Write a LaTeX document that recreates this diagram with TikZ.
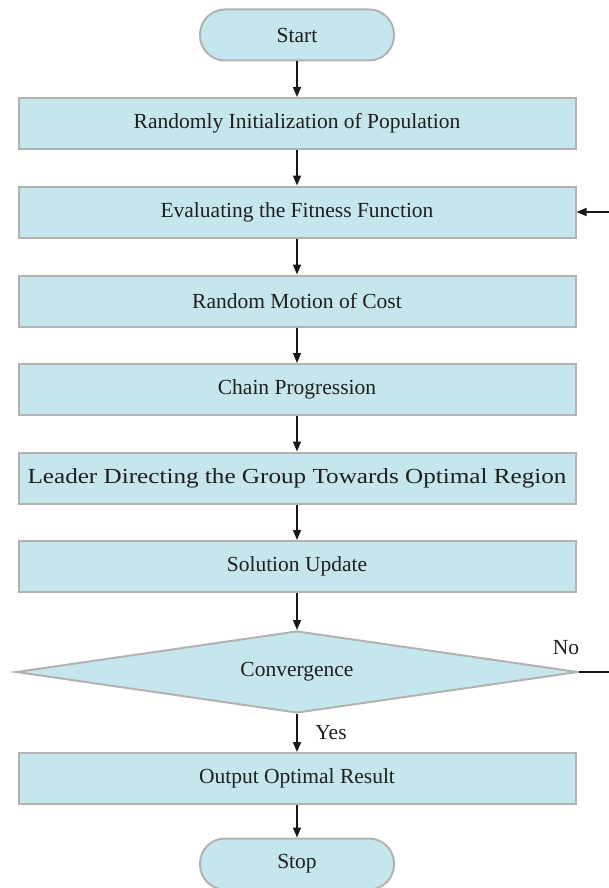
\documentclass[tikz,border=0pt]{standalone}
\usepackage{fontspec}
\usepackage{graphicx}
\setmainfont{Liberation Serif}
\usetikzlibrary{shapes.geometric,arrows.meta}
\definecolor{boxfill}{RGB}{198,230,237}
\definecolor{boxline}{RGB}{178,178,178}
\definecolor{txt}{RGB}{30,30,30}
\begin{document}
\begin{tikzpicture}[x=1pt,y=-1pt,
  font=\fontsize{21.5}{24}\selectfont,
  base/.style={fill=boxfill,draw=boxline,line width=2pt,text=txt,inner sep=0pt},
  procbox/.style={base,rectangle,minimum width=557pt,minimum height=51pt},
  term/.style={base,rectangle,rounded corners=25pt,minimum width=194pt,minimum height=51pt},
  decis/.style={base,diamond,aspect=6.85,minimum width=562pt,minimum height=82pt},
  conn/.style={line width=1.5pt,draw=black!90,-{Triangle[length=10pt,width=8pt]}},
  plain/.style={line width=1.5pt,draw=black!90},
  lbl/.style={text=txt,inner sep=0pt}]
\useasboundingbox (0,0) rectangle (608,888);
\node[term] (start) at (297,35) {Start};
\node[procbox] (b1) at (297,123.5) {Randomly Initialization of Population};
\node[procbox] (b2) at (297,212) {Evaluating the Fitness Function};
\node[procbox] (b3) at (297,301) {Random Motion of Cost};
\node[procbox] (b4) at (297,389.5) {Chain Progression};
\node[procbox] (b5) at (297,478) {\scalebox{1.17}[1]{Leader Directing the Group Towards Optimal Region}};
\node[procbox] (b6) at (297,566.5) {Solution Update};
\node[decis] (dec) at (297,672) {Convergence};
\node[procbox] (out) at (297,778.5) {Output Optimal Result};
\node[term] (stop) at (297,864) {Stop};
\coordinate (r1) at (612,672);
\coordinate (r2) at (612,212);
\draw[conn] (start) -- (b1);
\draw[conn] (b1) -- (b2);
\draw[conn] (b2) -- (b3);
\draw[conn] (b3) -- (b4);
\draw[conn] (b4) -- (b5);
\draw[conn] (b5) -- (b6);
\draw[conn] (b6) -- (dec);
\draw[conn] (dec) -- (out);
\draw[conn] (out) -- (stop);
\draw[plain] (dec.east) -- (r1);
\draw[conn] (r2) -- (b2.east);
\node[lbl] (no) at (566,648) {No};
\node[lbl] (yes) at (331,733) {Yes};
\end{tikzpicture}
\end{document}
